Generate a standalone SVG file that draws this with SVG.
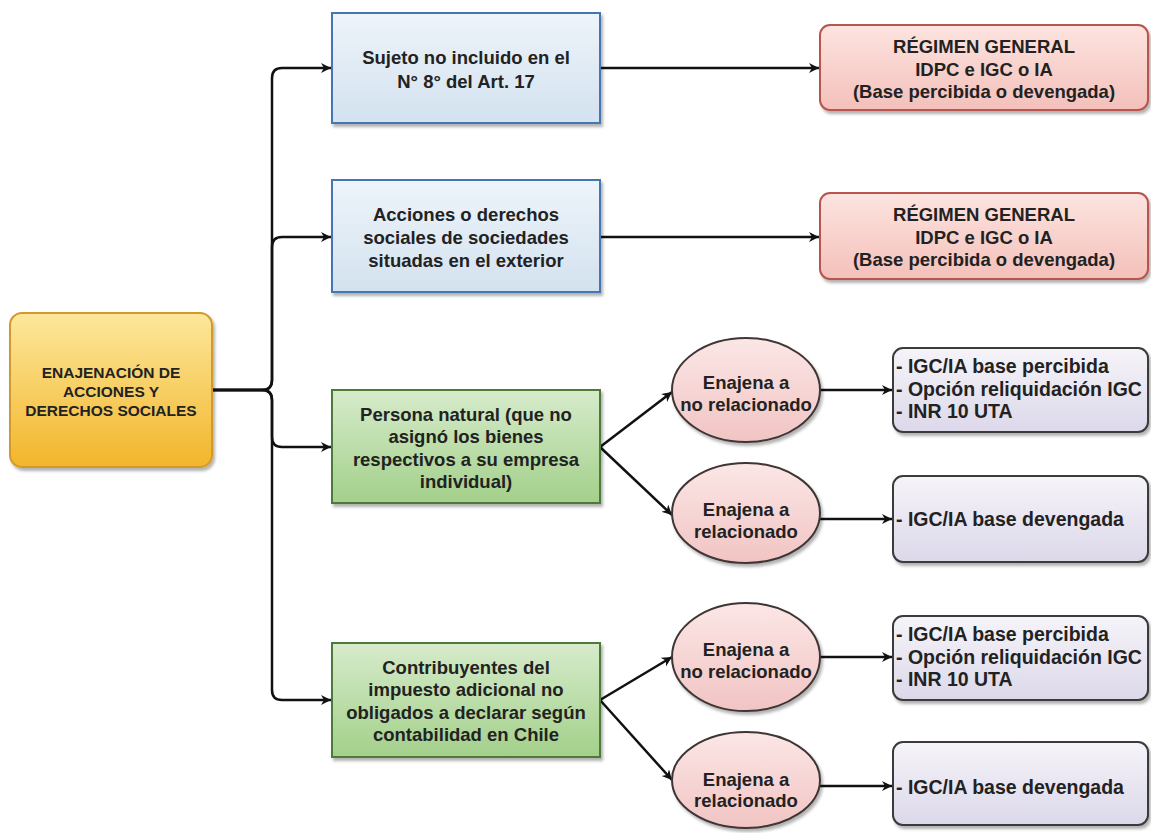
<svg xmlns="http://www.w3.org/2000/svg" width="1151" height="833" viewBox="0 0 1151 833">
<style>
text{font-family:"Liberation Sans",Arial,sans-serif;font-weight:bold;fill:#222;}
.c{text-anchor:middle;font-size:18.5px;}
.y{text-anchor:middle;font-size:15.5px;}
.l{text-anchor:start;font-size:19.5px;}
.conn{fill:none;stroke:#111;stroke-width:2.5;}
</style>
<defs>
<linearGradient id="gY" x1="0" y1="0" x2="0" y2="1"><stop offset="0" stop-color="#fde79c"/><stop offset="1" stop-color="#f2b62a"/></linearGradient>
<linearGradient id="gB" x1="0" y1="0" x2="0" y2="1"><stop offset="0" stop-color="#eef4fa"/><stop offset="1" stop-color="#d3e2ef"/></linearGradient>
<linearGradient id="gG" x1="0" y1="0" x2="0" y2="1"><stop offset="0" stop-color="#d6ebcb"/><stop offset="1" stop-color="#a3d08a"/></linearGradient>
<linearGradient id="gR" x1="0" y1="0" x2="0" y2="1"><stop offset="0" stop-color="#fde4e0"/><stop offset="1" stop-color="#f4c0ba"/></linearGradient>
<linearGradient id="gE" x1="0" y1="0" x2="0" y2="1"><stop offset="0" stop-color="#fbe7e6"/><stop offset="1" stop-color="#f1c4c3"/></linearGradient>
<linearGradient id="gP" x1="0" y1="0" x2="0" y2="1"><stop offset="0" stop-color="#f6f4f9"/><stop offset="1" stop-color="#dcd8ea"/></linearGradient>
<filter id="sh" x="-10%" y="-10%" width="130%" height="140%"><feDropShadow dx="2" dy="3" stdDeviation="1.5" flood-color="#000" flood-opacity="0.3"/></filter>
<marker id="ar" markerWidth="12" markerHeight="12" refX="10" refY="5" orient="auto" markerUnits="userSpaceOnUse"><path d="M0,0 L10,5 L0,10 L3,5 z" fill="#111"/></marker>
</defs>

<g id="connectors">
<path class="conn" marker-end="url(#ar)" d="M212 390 H262 Q272 390 272 380 V78 Q272 68 282 68 H331"/>
<path class="conn" marker-end="url(#ar)" d="M212 390 H262 Q272 390 272 380 V247 Q272 237 282 237 H331"/>
<path class="conn" marker-end="url(#ar)" d="M212 390 H262 Q272 390 272 400 V437 Q272 447 282 447 H331"/>
<path class="conn" marker-end="url(#ar)" d="M212 390 H262 Q272 390 272 400 V690 Q272 700 282 700 H331"/>
<path class="conn" marker-end="url(#ar)" d="M600 68 H819"/>
<path class="conn" marker-end="url(#ar)" d="M600 237 H819"/>
<path class="conn" marker-end="url(#ar)" d="M600 447 L672 392"/>
<path class="conn" marker-end="url(#ar)" d="M600 447 L672 515"/>
<path class="conn" marker-end="url(#ar)" d="M600 700 L672 657"/>
<path class="conn" marker-end="url(#ar)" d="M600 700 L672 780"/>
<path class="conn" marker-end="url(#ar)" d="M820 390 H892"/>
<path class="conn" marker-end="url(#ar)" d="M820 519 H892"/>
<path class="conn" marker-end="url(#ar)" d="M820 657 H892"/>
<path class="conn" marker-end="url(#ar)" d="M820 786 H892"/>
</g>

<g id="n-root">
<rect x="10" y="313" width="202" height="154" rx="12" fill="url(#gY)" stroke="#d19a2a" stroke-width="2" filter="url(#sh)"/>
<text class="y" x="111" y="378">ENAJENACIÓN DE</text>
<text class="y" x="111" y="397">ACCIONES Y</text>
<text class="y" x="111" y="416">DERECHOS SOCIALES</text>
</g>

<g id="n-sujeto">
<rect x="332" y="13" width="268" height="110" fill="url(#gB)" stroke="#4576b3" stroke-width="2" filter="url(#sh)"/>
<text class="c" x="466" y="64">Sujeto no incluido en el</text>
<text class="c" x="466" y="88">N° 8° del Art. 17</text>
</g>

<g id="n-acciones">
<rect x="332" y="180" width="268" height="112" fill="url(#gB)" stroke="#4576b3" stroke-width="2" filter="url(#sh)"/>
<text class="c" x="466" y="221">Acciones o derechos</text>
<text class="c" x="466" y="244">sociales de sociedades</text>
<text class="c" x="466" y="267">situadas en el exterior</text>
</g>

<g id="n-persona">
<rect x="332" y="390" width="268" height="113" fill="url(#gG)" stroke="#4d7a3a" stroke-width="2" filter="url(#sh)"/>
<text class="c" x="466" y="421">Persona natural (que no</text>
<text class="c" x="466" y="443">asignó los bienes</text>
<text class="c" x="466" y="466">respectivos a su empresa</text>
<text class="c" x="466" y="488">individual)</text>
</g>

<g id="n-contrib">
<rect x="332" y="643" width="268" height="114" fill="url(#gG)" stroke="#4d7a3a" stroke-width="2" filter="url(#sh)"/>
<text class="c" x="466" y="674">Contribuyentes del</text>
<text class="c" x="466" y="696">impuesto adicional no</text>
<text class="c" x="466" y="719">obligados a declarar según</text>
<text class="c" x="466" y="741">contabilidad en Chile</text>
</g>

<g id="n-reg1">
<rect x="820" y="25" width="328" height="85" rx="10" fill="url(#gR)" stroke="#b85450" stroke-width="2" filter="url(#sh)"/>
<text class="c" x="984" y="53">RÉGIMEN GENERAL</text>
<text class="c" x="984" y="76">IDPC e IGC o IA</text>
<text class="c" x="984" y="98">(Base percibida o devengada)</text>
</g>

<g id="n-reg2">
<rect x="820" y="193" width="328" height="86" rx="10" fill="url(#gR)" stroke="#b85450" stroke-width="2" filter="url(#sh)"/>
<text class="c" x="984" y="221">RÉGIMEN GENERAL</text>
<text class="c" x="984" y="244">IDPC e IGC o IA</text>
<text class="c" x="984" y="266">(Base percibida o devengada)</text>
</g>

<g id="n-e1">
<ellipse cx="746" cy="390" rx="74" ry="52" fill="url(#gE)" stroke="#3f3535" stroke-width="2" filter="url(#sh)"/>
<text class="c" x="746" y="389">Enajena a</text>
<text class="c" x="746" y="411">no relacionado</text>
</g>

<g id="n-e2">
<ellipse cx="746" cy="513" rx="74" ry="50" fill="url(#gE)" stroke="#3f3535" stroke-width="2" filter="url(#sh)"/>
<text class="c" x="746" y="516">Enajena a</text>
<text class="c" x="746" y="538">relacionado</text>
</g>

<g id="n-e3">
<ellipse cx="746" cy="657" rx="74" ry="54" fill="url(#gE)" stroke="#3f3535" stroke-width="2" filter="url(#sh)"/>
<text class="c" x="746" y="656">Enajena a</text>
<text class="c" x="746" y="678">no relacionado</text>
</g>

<g id="n-e4">
<ellipse cx="746" cy="780" rx="74" ry="48" fill="url(#gE)" stroke="#3f3535" stroke-width="2" filter="url(#sh)"/>
<text class="c" x="746" y="786">Enajena a</text>
<text class="c" x="746" y="807">relacionado</text>
</g>

<g id="n-p1">
<rect x="893" y="348" width="255" height="84" rx="10" fill="url(#gP)" stroke="#3a3a3a" stroke-width="2" filter="url(#sh)"/>
<text class="l" x="896" y="373">- IGC/IA base percibida</text>
<text class="l" x="896" y="396">- Opción reliquidación IGC</text>
<text class="l" x="896" y="418">- INR 10 UTA</text>
</g>

<g id="n-p2">
<rect x="893" y="476" width="255" height="86" rx="10" fill="url(#gP)" stroke="#3a3a3a" stroke-width="2" filter="url(#sh)"/>
<text class="l" x="896" y="526">- IGC/IA base devengada</text>
</g>

<g id="n-p3">
<rect x="893" y="616" width="255" height="84" rx="10" fill="url(#gP)" stroke="#3a3a3a" stroke-width="2" filter="url(#sh)"/>
<text class="l" x="896" y="641">- IGC/IA base percibida</text>
<text class="l" x="896" y="664">- Opción reliquidación IGC</text>
<text class="l" x="896" y="686">- INR 10 UTA</text>
</g>

<g id="n-p4">
<rect x="893" y="742" width="255" height="83" rx="10" fill="url(#gP)" stroke="#3a3a3a" stroke-width="2" filter="url(#sh)"/>
<text class="l" x="896" y="794">- IGC/IA base devengada</text>
</g>
</svg>
